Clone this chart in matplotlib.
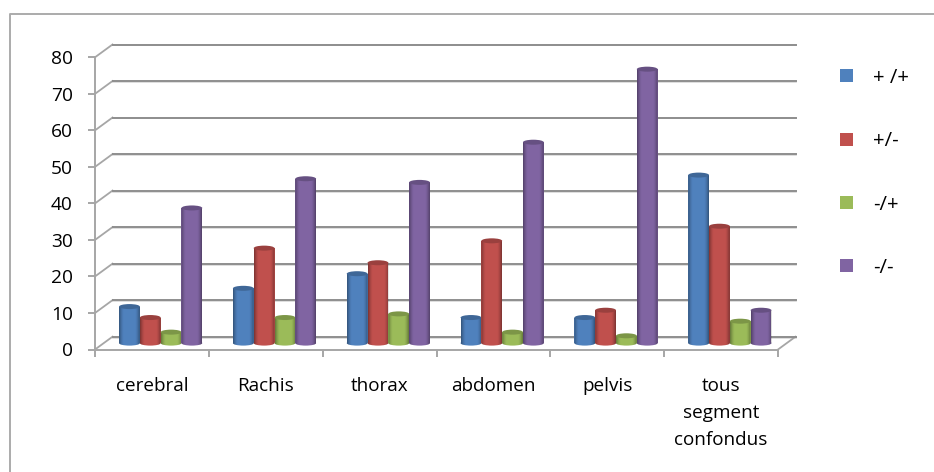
import numpy as np
import matplotlib
matplotlib.use("Agg")
import matplotlib.pyplot as plt
from matplotlib.lines import Line2D
from matplotlib.patches import Ellipse, Patch, Polygon
from matplotlib.colors import to_rgb

categories = ["cerebral", "Rachis", "thorax", "abdomen", "pelvis", "tous\nsegment\nconfondus"]
series_names = ["+ /+", "+/-", "-/+", "-/-"]
plus_plus = [10, 15, 19, 7, 7, 46]
plus_minus = [7, 26, 22, 28, 9, 32]
minus_plus = [3, 7, 8, 3, 2, 6]
minus_minus = [37, 45, 44, 55, 75, 9]
y_ticks = [0, 10, 20, 30, 40, 50, 60, 70, 80]

series = [plus_plus, plus_minus, minus_plus, minus_minus]
colors = ["#4F81BD", "#C0504D", "#9BBB59", "#8064A2"]
plt.rcParams["font.family"] = ["Open Sans", "DejaVu Sans"]

W, H = 934, 472
fig = plt.figure(figsize=(W / 100, H / 100), dpi=100, facecolor="white")
L, R, T, B = 95, 778, 57.3, 349.5
ax = fig.add_axes([L / W, 1 - B / H, (R - L) / W, (B - T) / H])
n = len(categories)
x_scale = (R - L) / n          # px per category
y_scale = (B - T) / 80         # px per value unit
ddx, ddy = 17.5 / x_scale, 12.8 / y_scale   # depth of the 3D floor in data units
gray = "#A6A6A6"
grid = "#8E8E8E"

ax.set_facecolor("none")
for s in ("top", "right"):
    ax.spines[s].set_visible(False)
for s in ("left", "bottom"):
    ax.spines[s].set_color(gray)
    ax.spines[s].set_linewidth(1.4)

# back wall
for v in y_ticks:
    ax.plot([0 + ddx, n + ddx], [v + ddy - 0.25, v + ddy - 0.25], color="#D8D8D8", lw=1.2, clip_on=False, zorder=1)
    ax.plot([0 + ddx, n + ddx], [v + ddy, v + ddy], color=grid, lw=1.4, clip_on=False, zorder=1.2)
    ax.plot([0, ddx], [v, v + ddy], color=gray, lw=1.3, clip_on=False, zorder=1.1)
ax.plot([n, n + ddx], [0, ddy], color=gray, lw=1.3, clip_on=False, zorder=1.1)

# cylinders
bw = 20.8 / x_scale
cap_h = 5.0 / y_scale
shade = np.zeros((1, 64, 4))
u = np.linspace(-1, 1, 64)
shade[0, :, 3] = np.clip((np.abs(u) - 0.55) / 0.45, 0, 1) ** 1.5 * 0.36
zo = 3.0
for i, (vals, col) in enumerate(zip(series, colors)):
    xs = np.arange(n) + 0.5 + ddx / 2 + (i - 1.5) * bw
    base = ddy / 2
    bars = ax.bar(xs, vals, bw, bottom=base, color=col, linewidth=0, zorder=zo, clip_on=False)
    for xc, v, rect in zip(xs, vals, bars):
        zo += 0.01
        rect.set_zorder(zo)
        ax.add_patch(Ellipse((xc, base), bw, cap_h, facecolor=col, edgecolor="none", zorder=zo, clip_on=False))
        t = np.linspace(np.pi, 2 * np.pi, 30)
        outline = np.column_stack([xc + bw / 2 * np.cos(t), base + cap_h / 2 * np.sin(t)])
        outline = np.vstack([outline, [xc + bw / 2, base + v], [xc - bw / 2, base + v]])
        clip = Polygon(outline, closed=True, transform=ax.transData, facecolor="none", edgecolor="none")
        ax.add_patch(clip)
        im = ax.imshow(shade, extent=[xc - bw / 2, xc + bw / 2, base - cap_h, base + v],
                       aspect="auto", interpolation="bilinear", zorder=zo + 0.001)
        im.set_clip_box(None)
        im.set_clip_path(clip)
        top = tuple(c * 0.8 for c in to_rgb(col))
        ax.add_patch(Ellipse((xc, base + v), bw, cap_h, facecolor=top, edgecolor="none",
                             zorder=zo + 0.002, clip_on=False))
        zo += 0.01

ax.set_xlim(0, n)
ax.set_ylim(0, 80)
ax.set_yticks(y_ticks)
ax.set_xticks(np.arange(n) + 0.5)
ax.set_xticklabels(categories, linespacing=1.62)
ax.set_xticks(np.arange(n + 1), minor=True)
ax.tick_params(axis="x", which="major", length=0, pad=20, labelsize=13.6, labelcolor="black")
ax.tick_params(axis="x", which="minor", length=5, width=1.4, color=gray)
ax.tick_params(axis="y", length=5, width=1.4, color=gray, pad=11, labelsize=13.8, labelcolor="black")

# legend
handles = [Patch(facecolor=c, edgecolor="none") for c in colors]
ax.legend(handles, series_names, frameon=False, loc="upper left",
          bbox_to_anchor=(840 / W, 1 - 68 / H), bbox_transform=fig.transFigure,
          fontsize=14.7, handlelength=0.64, handleheight=0.6, handletextpad=0.98,
          labelspacing=2.12, borderpad=0, borderaxespad=0)

# chart-area frame
fig.add_artist(Line2D([10 / W, 10 / W, 1], [0, 1 - 13.5 / H, 1 - 13.5 / H], color="#ABABAB", lw=1.4))

fig.savefig("out.png", dpi=100)
